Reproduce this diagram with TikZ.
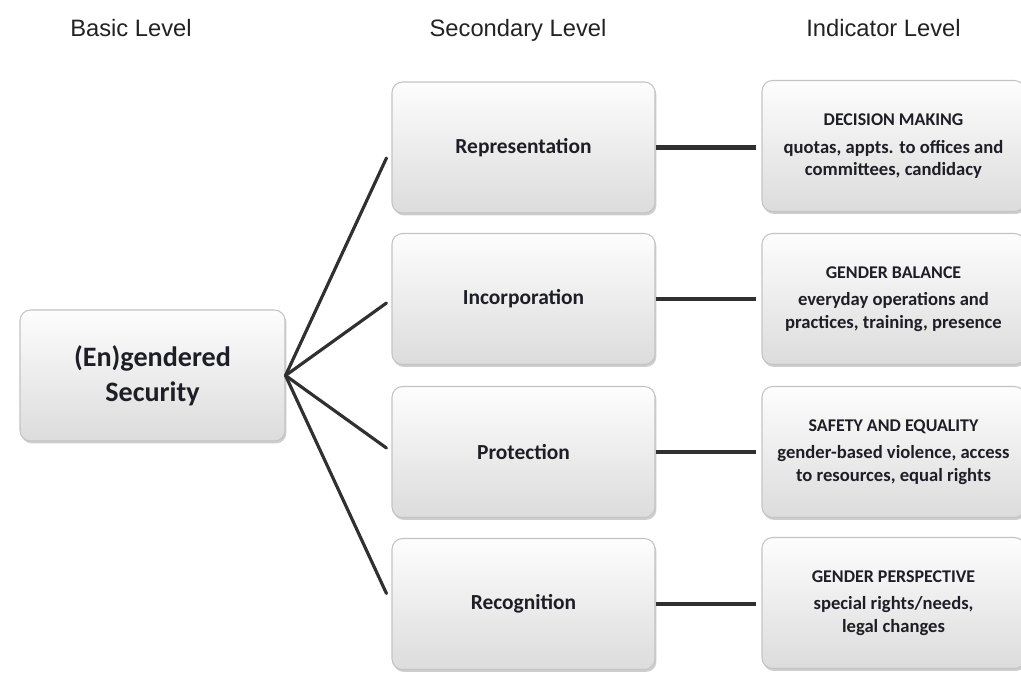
\documentclass[tikz,border=0pt]{standalone}
\usepackage{fontspec}
\setmainfont{Carlito}
\newfontfamily\headfont{Liberation Sans}
\usetikzlibrary{shadows}
\definecolor{lvlInk}{RGB}{30,30,38}
\definecolor{lvlHead}{RGB}{34,34,34}
\definecolor{lvlEdge}{RGB}{196,196,196}
\definecolor{lvlTop}{RGB}{253,253,253}
\definecolor{lvlBottom}{RGB}{220,220,220}
\definecolor{lvlLink}{RGB}{48,48,48}
\tikzset{
  lvlhead/.style={font=\headfont\fontsize{13.5}{15}\selectfont,
    text=lvlHead, align=center, inner sep=0pt, anchor=base},
  lvlbox/.style={rounded corners=6pt, draw=lvlEdge, line width=.6pt,
    top color=lvlTop, bottom color=lvlBottom, text=lvlInk, align=center,
    minimum width=5.26cm, minimum height=2.62cm, inner sep=2pt,
    drop shadow={shadow xshift=.8pt, shadow yshift=-1.4pt,
      opacity=.35, fill=black!55}},
  lvllink/.style={draw=lvlLink, line width=1.8pt, line cap=round}
}

\begin{document}
\begin{tikzpicture}[
  basebox/.style={lvlbox, minimum width=5.30cm,
    font=\bfseries\fontsize{16}{19.8}\selectfont},
  secbox/.style={lvlbox, font=\bfseries\fontsize{12.2}{14}\selectfont},
  indbox/.style={lvlbox, font=\bfseries\fontsize{10.6}{12.6}\selectfont},
  barlink/.style={lvllink, line width=2.5pt, line cap=butt}
]
\path[use as bounding box, fill=white] (0,0) rectangle (20.42,-13.54);

% column headings
\node[lvlhead] (hbasic) at (2.62,-.73) {Basic Level};
\node[lvlhead] (hsec) at (10.36,-.73) {Secondary Level};
\node[lvlhead] (hind) at (17.67,-.73) {Indicator Level};

% basic level
\node[basebox] (security) at (3.05,-7.51) {(En)gendered\\Security};

% secondary level
\node[secbox] (repr) at (10.47,-2.95) {Representation};
\node[secbox] (incorp) at (10.47,-5.98) {Incorporation};
\node[secbox] (protect) at (10.47,-9.04) {Protection};
\node[secbox] (recog) at (10.47,-12.08) {Recognition};

% indicator level
\node[indbox] (decision) at (17.87,-2.92)
  {{\fontsize{10.2}{11}\selectfont DECISION MAKING}\\[3pt]
   quotas, appts. to offices and\\committees, candidacy};
\node[indbox] (balance) at (17.87,-5.98)
  {{\fontsize{10.2}{11}\selectfont GENDER BALANCE}\\[3pt]
   everyday operations and\\practices, training, presence};
\node[indbox] (safety) at (17.87,-9.04)
  {{\fontsize{10.2}{11}\selectfont SAFETY AND EQUALITY}\\[3pt]
   gender-based violence, access\\to resources, equal rights};
\node[indbox] (perspective) at (17.87,-12.06)
  {{\fontsize{10.2}{11}\selectfont GENDER PERSPECTIVE}\\[3pt]
   special rights/needs,\\legal changes};

% fan out to the secondary level
\draw[lvllink] (security.east) -- ([xshift=-.1cm,yshift=-.21cm]repr.west);
\draw[lvllink] (security.east) -- ([xshift=-.1cm,yshift=-.08cm]incorp.west);
\draw[lvllink] (security.east) -- ([xshift=-.1cm,yshift=.08cm]protect.west);
\draw[lvllink] (security.east) -- ([xshift=-.1cm,yshift=.21cm]recog.west);

% secondary to indicator, kept level
\draw[barlink] (repr.east) -- ([xshift=-.1cm]repr.east -| decision.west);
\draw[barlink] (incorp.east) -- ([xshift=-.1cm]incorp.east -| balance.west);
\draw[barlink] (protect.east) -- ([xshift=-.1cm]protect.east -| safety.west);
\draw[barlink] (recog.east) -- ([xshift=-.1cm]recog.east -| perspective.west);
\end{tikzpicture}
\end{document}
